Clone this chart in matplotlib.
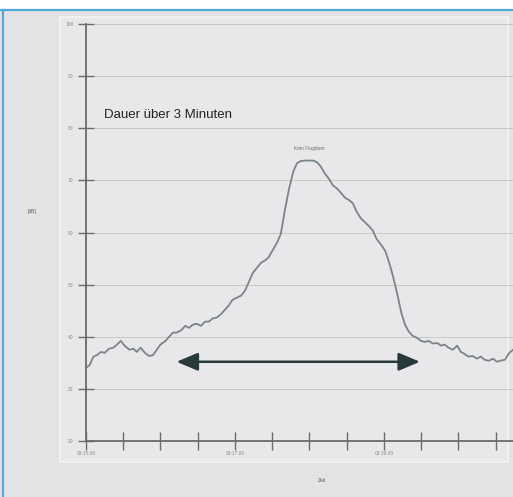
import matplotlib
matplotlib.use('Agg')
import matplotlib.pyplot as plt
import matplotlib.patches as mpatches

plt.rcParams['font.family'] = ['Liberation Sans', 'DejaVu Sans']

# ── colours ─────────────────────────────────────
BG = '#e3e3e5'
BLUE = '#4fa9d9'
AXIS = '#6b6b6b'
GRID = '#c4c4c4'
LINE = '#7b8585'
ARROW = '#27393a'
TICK_TXT = '#8a8a8a'

# ── data: seconds after 03:15:00, level in dB ───
t_sec = [0, 3, 6, 9, 12, 15, 18.5, 22, 25, 28, 31, 35, 38, 41, 44, 47.5, 51, 54, 57,
         60, 64, 67, 70, 73, 76.5, 80, 83, 86, 89, 92.6, 96, 99, 102, 105.5, 109,
         112, 115, 118, 121.6, 125, 128, 131, 134.5, 138, 141, 144, 147, 150.6,
         154, 157, 160, 163.5, 167, 170, 173, 176, 179.6, 183, 186, 189, 192.5,
         196, 199, 202, 205, 208.6, 212, 215, 218, 221.5, 225, 228, 231, 234,
         237.6, 241, 244, 247, 250.5, 254, 257, 260, 263, 266.6, 270, 273, 276,
         279.5, 283, 286, 289, 292, 295.6, 299, 302, 305, 308, 311.5, 315, 318,
         321, 324.6, 328, 331, 334, 337.5, 341, 344]
level_db = [34.0, 34.6, 36.2, 36.5, 37.1, 36.9, 37.7, 37.9, 38.5, 39.2, 38.3, 37.5,
            37.7, 37.1, 37.9, 36.9, 36.3, 36.5, 37.5, 38.5, 39.2, 40.0, 40.8, 40.8,
            41.2, 42.1, 41.7, 42.3, 42.5, 42.1, 42.9, 42.9, 43.5, 43.7, 44.4, 45.2,
            46.0, 47.1, 47.5, 47.9, 48.8, 50.4, 52.3, 53.3, 54.2, 54.6, 55.2, 56.7,
            58.1, 59.8, 64.0, 68.3, 71.7, 73.3, 73.7, 73.8, 73.8, 73.8, 73.5, 72.7,
            71.3, 70.2, 69.0, 68.5, 67.7, 66.7, 66.2, 65.6, 64.0, 62.7, 61.9, 61.2,
            60.4, 58.8, 57.7, 56.5, 54.4, 51.9, 48.5, 44.6, 42.3, 41.0, 40.2, 39.8,
            39.2, 39.0, 39.2, 38.7, 38.8, 38.3, 38.5, 37.9, 37.5, 38.3, 37.1, 36.7,
            36.2, 36.3, 35.8, 36.2, 35.6, 35.4, 35.8, 35.2, 35.4, 35.6, 36.9, 37.5]

y_ticks = [20, 30, 40, 50, 60, 70, 80, 90, 100]
x_ticks = list(range(0, 341, 30))
x_labels = {0: '03:15:00', 120: '03:17:00', 240: '03:19:00'}
arrow_start, arrow_end, arrow_level = 73, 269, 35.2

fig = plt.figure(figsize=(5.13, 4.97), dpi=100)
fig.patch.set_facecolor(BG)

# scan frame: white strip on top, blue border lines, lighter inner panel edge
fig.patches.append(mpatches.Rectangle((0, 1 - 9 / 497), 1, 9 / 497, transform=fig.transFigure,
                                      facecolor='white', edgecolor='none', zorder=0))
fig.patches.append(mpatches.Rectangle((60 / 513, 1 - 462 / 497), 448 / 513, 445 / 497,
                                      transform=fig.transFigure, facecolor='#e8e8ea',
                                      edgecolor='#f3f3f3', lw=1.2, zorder=0))
fig.add_artist(plt.Line2D([0, 1], [1 - 10 / 497] * 2, color=BLUE, lw=1.6))
fig.add_artist(plt.Line2D([3 / 513] * 2, [0, 1 - 10 / 497], color=BLUE, lw=1.6))

ax = fig.add_axes([86 / 513, 1 - 441 / 497, 427 / 513, 417 / 497])
ax.set_zorder(3)
ax.set_facecolor('none')

ax.plot(t_sec, level_db, color=LINE, lw=1.3, zorder=3)

ax.set_xlim(0, 344)
ax.set_ylim(20, 100)
ax.set_yticks(y_ticks)
ax.set_yticklabels([str(v) for v in y_ticks], fontsize=3.5, color=TICK_TXT)
ax.set_xticks(x_ticks)
ax.set_xticklabels([x_labels.get(v, '') for v in x_ticks], fontsize=3.5, color=TICK_TXT)
ax.tick_params(axis='y', direction='inout', length=12, width=1.0, color=AXIS, pad=3)
ax.tick_params(axis='x', direction='inout', length=13, width=1.0, color=AXIS, pad=1)

ax.grid(axis='y', color=GRID, lw=0.6)
for side in ['top', 'right']:
    ax.spines[side].set_visible(False)
for side in ['left', 'bottom']:
    ax.spines[side].set_color(AXIS)
    ax.spines[side].set_linewidth(1.3)

ax.annotate('', xy=(arrow_end, arrow_level), xytext=(arrow_start, arrow_level),
            arrowprops=dict(arrowstyle='<|-|>,head_length=1.3,head_width=0.55',
                            color=ARROW, lw=1.8, shrinkA=0, shrinkB=0), zorder=4)

ax.text(14.5, 82.5, 'Dauer über 3 Minuten', fontsize=9.5, color='#222222',
        ha='left', va='center')
ax.text(180, 76.2, 'Kein Fluglärm', fontsize=3.5, color='#707070', ha='center', va='center')

fig.text(32 / 513, 1 - 211 / 497, '[dB]', fontsize=3.5, color='#555555', ha='center', va='center')
fig.text(322 / 513, 1 - 480 / 497, 'Zeit', fontsize=3.5, color='#555555', ha='center', va='center')

fig.savefig('out.png', dpi=100, facecolor=BG)
